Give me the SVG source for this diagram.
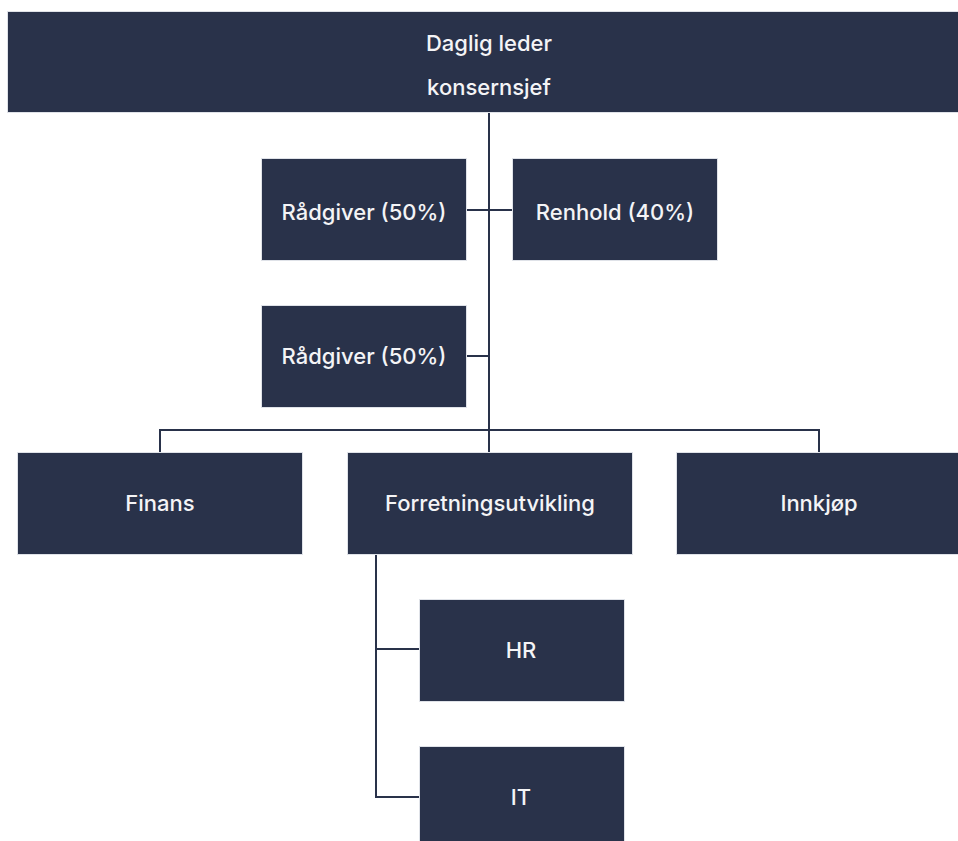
<svg xmlns="http://www.w3.org/2000/svg" width="958" height="841" viewBox="0 0 958 841">
<style>
.box{fill:#29324a;stroke:#dfe2e8;stroke-width:1}
.lbl{fill:#f4f4f6;font-family:Inter,"Liberation Sans",sans-serif;font-size:22px;font-weight:500;text-anchor:middle;dominant-baseline:central}
.con{fill:none;stroke:#29324a;stroke-width:2}
</style>
<rect width="958" height="841" fill="#ffffff"/>
<g id="connectors">
<path class="con" d="M489 113V452"/>
<path class="con" d="M467 210H512"/>
<path class="con" d="M467 356H489"/>
<path class="con" d="M160 452V430H819V452"/>
<path class="con" d="M376 554V797H419"/>
<path class="con" d="M376 649H419"/>
</g>
<g id="daglig-leder">
<rect class="box" x="7.5" y="11.5" width="960" height="101"/>
<text class="lbl" x="489" y="43">Daglig leder</text>
<text class="lbl" x="489" y="87">konsernsjef</text>
</g>
<g id="radgiver1">
<rect class="box" x="261.5" y="158.5" width="205" height="102"/>
<text class="lbl" x="364" y="212">Rådgiver (50%)</text>
</g>
<g id="renhold">
<rect class="box" x="512.5" y="158.5" width="205" height="102"/>
<text class="lbl" x="615" y="212">Renhold (40%)</text>
</g>
<g id="radgiver2">
<rect class="box" x="261.5" y="305.5" width="205" height="102"/>
<text class="lbl" x="364" y="356">Rådgiver (50%)</text>
</g>
<g id="finans">
<rect class="box" x="17.5" y="452.5" width="285" height="102"/>
<text class="lbl" x="160" y="503">Finans</text>
</g>
<g id="forretningsutvikling">
<rect class="box" x="347.5" y="452.5" width="285" height="102"/>
<text class="lbl" x="490" y="503">Forretningsutvikling</text>
</g>
<g id="innkjop">
<rect class="box" x="676.5" y="452.5" width="290" height="102"/>
<text class="lbl" x="819" y="503">Innkjøp</text>
</g>
<g id="hr">
<rect class="box" x="419.5" y="599.5" width="205" height="102"/>
<text class="lbl" x="521" y="650">HR</text>
</g>
<g id="it">
<rect class="box" x="419.5" y="746.5" width="205" height="102"/>
<text class="lbl" x="521" y="797">IT</text>
</g>
</svg>
